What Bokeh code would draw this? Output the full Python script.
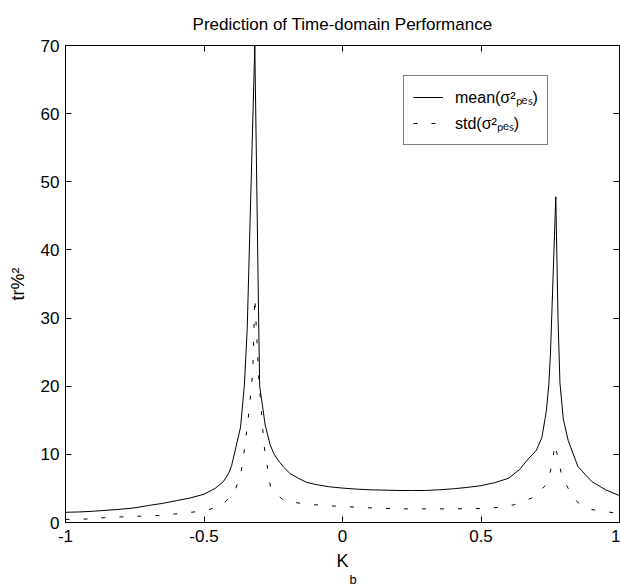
from bokeh.plotting import figure
from bokeh.models import Range1d, LinearAxis, FixedTicker, Legend, LegendItem, Title
from bokeh.embed import file_html
from bokeh.resources import INLINE

# ---- data ----
kb_mean = [-1.0, -0.95, -0.9, -0.85, -0.8, -0.75, -0.7, -0.65, -0.6, -0.55, -0.5,
           -0.46, -0.43, -0.41, -0.40, -0.385, -0.368, -0.354, -0.344, -0.3166,
           -0.3022, -0.299, -0.279, -0.262, -0.248, -0.23, -0.212, -0.19, -0.16,
           -0.13, -0.1, -0.05, 0.0, 0.05, 0.1, 0.15, 0.2, 0.25, 0.3, 0.35, 0.4,
           0.45, 0.5, 0.55, 0.6, 0.64, 0.67, 0.70, 0.72, 0.736, 0.745, 0.751,
           0.770, 0.778, 0.785, 0.797, 0.815, 0.85, 0.9, 0.95, 1.0]
mean_vals = [1.5, 1.55, 1.65, 1.8, 1.95, 2.15, 2.5, 2.8, 3.2, 3.6, 4.15,
             5.0, 6.0, 7.3, 8.4, 11.0, 14.0, 20.3, 28.4, 70.0,
             28.4, 20.0, 14.3, 11.5, 10.1, 9.0, 8.1, 7.2, 6.5,
             5.9, 5.6, 5.25, 5.05, 4.9, 4.8, 4.75, 4.7, 4.7, 4.7, 4.8, 4.95,
             5.15, 5.4, 5.85, 6.5, 7.8, 9.3, 10.6, 12.5, 16.4, 20.3, 25.0,
             47.8, 30.0, 20.5, 15.2, 12.0, 8.2, 6.0, 4.8, 3.95]

kb_std = [-1.0, -0.93, -0.86, -0.78, -0.72, -0.65, -0.57, -0.5, -0.44, -0.392,
          -0.368, -0.356, -0.34, -0.324, -0.3166, -0.302, -0.29, -0.284, -0.26,
          -0.212, -0.15, -0.1, -0.05, 0.0, 0.1, 0.2, 0.3, 0.4, 0.5, 0.56, 0.62,
          0.69, 0.739, 0.757, 0.767, 0.777, 0.793, 0.823, 0.85, 0.9, 0.95, 1.0]
std_vals = [0.45, 0.5, 0.7, 0.85, 0.95, 1.05, 1.4, 1.7, 2.4, 4.3,
            6.9, 10.1, 15.4, 22.0, 33.0, 21.0, 14.9, 11.5, 5.2,
            3.2, 2.8, 2.6, 2.45, 2.35, 2.15, 2.0, 2.0, 2.0, 2.05, 2.2, 2.6,
            3.7, 5.7, 8.6, 11.5, 9.6, 6.6, 4.4, 2.9, 1.9, 1.6, 1.3]

x_ticks = [-1, -0.5, 0, 0.5, 1]
x_tick_labels = ["-1", "-0.5", "0", "0.5", "1"]
y_ticks = [0, 10, 20, 30, 40, 50, 60, 70]
y_tick_labels = ["0", "10", "20", "30", "40", "50", "60", "70"]

series_labels = ["mean(σ²ₚₑₛ)", "std(σ²ₚₑₛ)"]
title_text = "Prediction of Time-domain Performance"
x_label = "K"
x_label_sub = "b"
y_label = "tr%²"

FONT = "Liberation Sans"

p = figure(width=620, height=586, output_backend="svg", toolbar_location=None,
           x_range=Range1d(-1, 1), y_range=Range1d(0, 70),
           min_border_left=65, min_border_right=1, min_border_top=44,
           min_border_bottom=64, title=title_text,
           background_fill_color="white", border_fill_color="white")
p.grid.visible = False
p.outline_line_color = "black"
p.outline_line_width = 1

p.title.text_font = FONT
p.title.text_font_size = "17px"
p.title.text_font_style = "normal"
p.title.align = "center"
p.title.text_color = "black"
p.title.standoff = 24

xax = p.below[0]
yax = p.left[0]


def style(ax, ticks, labels, show):
    ax.ticker = FixedTicker(ticks=ticks)
    ax.major_tick_in = 6
    ax.major_tick_out = 0
    ax.minor_tick_line_color = None
    ax.axis_line_color = "black"
    ax.major_tick_line_color = "black"
    ax.major_label_text_font = FONT
    ax.major_label_text_color = "black"
    if show:
        ax.major_label_text_font_size = "17px"
        ax.major_label_overrides = dict(zip(ticks, labels))
    else:
        ax.major_label_text_font_size = "0px"
        ax.major_label_standoff = 0
        ax.major_label_overrides = {t: "" for t in ticks}


style(xax, x_ticks, x_tick_labels, True)
style(yax, y_ticks, y_tick_labels, True)
xax.major_label_standoff = 7
yax.major_label_standoff = 6

top = LinearAxis()
style(top, x_ticks, x_tick_labels, False)
p.add_layout(top, "above")
right = LinearAxis()
style(right, y_ticks, y_tick_labels, False)
p.add_layout(right, "right")

xax.axis_label = x_label
yax.axis_label = y_label
for ax in (xax, yax):
    ax.axis_label_text_font = FONT
    ax.axis_label_text_font_size = "18px"
    ax.axis_label_text_font_style = "normal"
    ax.axis_label_text_color = "black"
xax.axis_label_standoff = 6
yax.axis_label_standoff = 10

r1 = p.line(kb_mean, mean_vals, line_color="black", line_width=1)
r2 = p.line(kb_std, std_vals, line_color="black", line_width=1, line_dash="4 14")

legend = Legend(items=[LegendItem(label=series_labels[0], renderers=[r1]),
                       LegendItem(label=series_labels[1], renderers=[r2])],
                location=(338, 377), glyph_width=30, glyph_height=24,
                label_height=24, label_standoff=12, padding=9, spacing=2,
                margin=0, border_line_color="black", border_line_width=1,
                background_fill_color="white", background_fill_alpha=1.0,
                label_text_font=FONT, label_text_font_size="16px",
                label_text_color="black")
p.add_layout(legend)

sub = Title(text=x_label_sub, align="left", offset=284, standoff=-7,
            text_font=FONT, text_font_size="13px", text_font_style="normal",
            text_color="black")
p.add_layout(sub, "below")

open("out.html", "w").write(file_html(p, INLINE))
